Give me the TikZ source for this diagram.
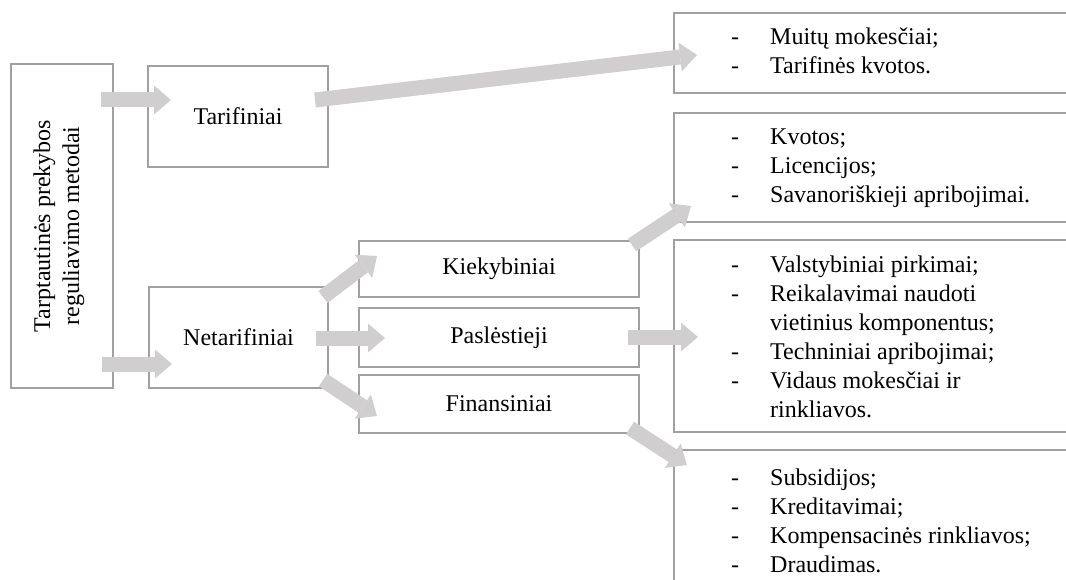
\documentclass[tikz,border=0pt]{standalone}
\usepackage{fontspec}
\setmainfont{Liberation Serif}
\usetikzlibrary{arrows.meta}
\definecolor{boxgray}{RGB}{160,160,160}
\definecolor{arrgray}{RGB}{208,206,206}
\newcommand{\itm}[1]{\makebox[39pt][l]{-}#1}
\newcommand{\cnt}[1]{\hspace*{39pt}#1}
\begin{document}
\begin{tikzpicture}[x=1pt,y=-1pt,
  txt/.style={font={\fontsize{24}{29}\selectfont}},
  box/.style={draw=boxgray,line width=1.3pt,inner sep=0pt,rectangle,txt},
  listtext/.style={txt,align=left,anchor=west,inner sep=0pt},
  barrow/.style={draw=arrgray,line width=15pt,-{Triangle[width=29pt,length=17pt,line width=0pt]}}]
\useasboundingbox (0,0) rectangle (1066,580);
\clip (0,0) rectangle (1066,580);
% boxes
\node[box,minimum width=102pt,minimum height=324pt] (meth) at (62,226) {};
\node[txt,rotate=90,align=center] (methtext) at (59,226) {Tarptautinės prekybos\\reguliavimo metodai};
\node[box,minimum width=180pt,minimum height=101pt] (tarif) at (238,116.5) {Tarifiniai};
\node[box,minimum width=179pt,minimum height=101pt] (netarif) at (238.5,337.5) {Netarifiniai};
\node[box,minimum width=280pt,minimum height=56pt] (kiek) at (499,269) {Kiekybiniai};
\node[box,minimum width=280pt,minimum height=59pt] (pasl) at (499,337.5) {Paslėstieji};
\node[box,minimum width=280pt,minimum height=58pt] (fin) at (499,404) {Finansiniai};
% right boxes
\node[box,minimum width=426pt,minimum height=80pt] (r1) at (887,53) {};
\node[box,minimum width=426pt,minimum height=109pt] (r2) at (887,167.5) {};
\node[box,minimum width=426pt,minimum height=192pt] (r3) at (887,336) {};
\node[box,minimum width=426pt,minimum height=170pt] (r4) at (887,535) {};
\node[listtext] (r1t) at (731,51) {\itm{Muitų mokesčiai;}\\\itm{Tarifinės kvotos.}};
\node[listtext] (r2t) at (731,168) {\itm{Kvotos;}\\\itm{Licencijos;}\\\itm{Savanoriškieji apribojimai.}};
\node[listtext] (r3t) at (731,337) {\itm{Valstybiniai pirkimai;}\\\itm{Reikalavimai naudoti}\\\cnt{vietinius komponentus;}\\\itm{Techniniai apribojimai;}\\\itm{Vidaus mokesčiai ir}\\\cnt{rinkliavos.}};
\node[listtext] (r4t) at (731,521) {\itm{Subsidijos;}\\\itm{Kreditavimai;}\\\itm{Kompensacinės rinkliavos;}\\\itm{Draudimas.}};
% arrow end points
\coordinate (a1s) at (101,100);  \coordinate (a1e) at (171,100);
\coordinate (a2s) at (102,364);  \coordinate (a2e) at (172,364);
\coordinate (a3s) at (315,100);  \coordinate (a3e) at (697,55);
\coordinate (a4s) at (323,297);  \coordinate (a4e) at (377,256);
\coordinate (a5s) at (316,338);  \coordinate (a5e) at (385,338);
\coordinate (a6s) at (323,380);  \coordinate (a6e) at (377,416);
\coordinate (a7s) at (632,245);  \coordinate (a7e) at (691,206);
\coordinate (a8s) at (628,337);  \coordinate (a8e) at (698,337);
\coordinate (a9s) at (630,428);  \coordinate (a9e) at (687,465);
\draw[barrow] (a1s) -- (a1e);
\draw[barrow] (a2s) -- (a2e);
\draw[barrow] (a3s) -- (a3e);
\draw[barrow] (a4s) -- (a4e);
\draw[barrow] (a5s) -- (a5e);
\draw[barrow] (a6s) -- (a6e);
\draw[barrow] (a7s) -- (a7e);
\draw[barrow] (a8s) -- (a8e);
\draw[barrow] (a9s) -- (a9e);
\end{tikzpicture}
\end{document}
